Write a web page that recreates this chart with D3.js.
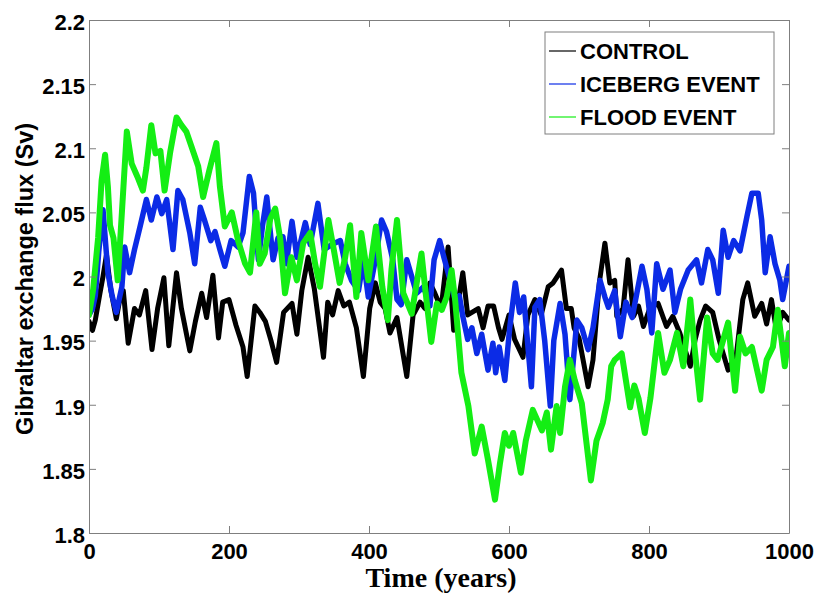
<!DOCTYPE html>
<html>
<head>
<meta charset="utf-8">
<script src="https://cdn.jsdelivr.net/npm/d3@7"></script>
<style>
  html, body { margin: 0; padding: 0; background: #fff; }
  svg { display: block; }
  text { font-family: "Liberation Sans", Arial, sans-serif; font-weight: bold; fill: #000; }
</style>
</head>
<body>
<svg id="chart" width="814" height="594"></svg>
<script>
// Gibraltar exchange flux (Sv) over 1000 model years, three experiments.
const seriesNames = ["CONTROL", "ICEBERG EVENT", "FLOOD EVENT"];
const seriesColors = ["#000000", "#0b2be6", "#14ee14"];

const xTicks = [0, 200, 400, 600, 800, 1000];
const yTicks = [1.8, 1.85, 1.9, 1.95, 2.0, 2.05, 2.1, 2.15, 2.2];
const yTickLabels = ["1.8", "1.85", "1.9", "1.95", "2", "2.05", "2.1", "2.15", "2.2"];

const controlYears = [0,5,9,15,20,25,31,39,45,49,56,65,72,81,90,98,107,114,125,132,144,152,161,168,177,185,191,200,210,220,226,237,244,252,260,268,278,290,297,304,313,322,335,341,348,356,364,372,382,392,401,409,416,423,430,440,454,463,473,480,487,494,503,513,521,534,541,556,563,570,578,585,590,600,608,620,627,637,646,656,663,675,682,689,693,700,713,720,729,737,744,751,754,763,770,778,785,792,801,813,825,834,844,859,866,873,881,891,900,913,925,934,941,951,961,968,975,982,991,1000];
const controlFlux = [1.965,1.958,1.966,1.985,2.000,2.017,1.990,1.967,1.985,1.989,1.948,1.975,1.970,1.989,1.943,1.975,1.999,1.946,2.003,1.975,1.942,1.965,1.987,1.968,2.001,1.952,1.980,1.982,1.962,1.945,1.922,1.977,1.972,1.965,1.950,1.933,1.972,1.979,1.955,1.989,2.015,1.990,1.937,1.980,1.970,1.989,1.977,1.980,1.960,1.922,1.975,1.995,1.980,1.975,1.956,1.968,1.922,1.970,1.980,1.975,1.995,1.987,1.975,2.023,1.958,2.003,1.970,1.975,1.960,1.977,1.977,1.960,1.951,1.970,1.951,1.937,1.970,1.982,1.970,1.992,1.995,2.005,1.975,1.975,1.960,1.952,1.914,1.935,1.995,2.026,1.995,1.997,1.969,1.975,2.013,1.969,1.977,1.961,1.975,1.979,1.961,1.969,1.956,1.930,1.951,1.966,1.977,1.972,1.951,1.927,1.940,1.982,1.995,1.969,1.979,1.963,1.982,1.958,1.972,1.966];

const icebergYears = [0,5,9,14,20,27,33,39,47,51,58,65,73,82,89,97,104,111,120,127,134,144,151,159,165,174,180,187,194,203,213,220,229,235,242,248,254,258,263,270,277,282,290,297,309,316,327,336,347,359,366,375,385,392,399,408,418,425,434,440,446,454,461,468,478,487,493,501,507,513,523,529,534,541,547,554,561,570,577,581,586,594,601,609,615,621,632,637,644,651,659,664,673,680,687,697,704,713,720,730,737,742,751,759,767,776,790,797,804,811,820,830,837,845,856,868,875,884,891,899,906,913,921,930,940,947,956,961,966,973,980,987,991,1000];
const icebergFlux = [1.970,1.975,1.985,2.020,2.052,2.003,1.985,1.972,1.992,2.023,2.003,2.021,2.039,2.060,2.044,2.062,2.049,2.060,2.021,2.067,2.060,2.034,2.010,2.054,2.044,2.028,2.035,2.021,2.008,2.028,2.023,2.034,2.078,2.065,2.013,2.040,2.062,2.040,2.013,2.030,2.031,2.010,2.043,2.015,2.042,2.025,2.057,2.021,2.025,2.028,2.010,1.997,1.989,2.013,1.984,2.010,2.044,2.035,2.013,1.982,1.978,2.013,2.000,1.987,1.992,1.977,2.013,2.028,2.015,2.003,1.982,1.985,1.969,1.951,1.960,1.940,1.955,1.927,1.948,1.925,1.945,1.919,1.960,1.995,1.972,1.984,1.914,1.976,1.982,1.950,1.899,1.950,1.979,1.955,1.904,1.966,1.960,1.943,1.960,1.997,1.984,1.976,1.989,1.953,1.980,1.968,2.008,1.990,1.956,2.010,1.990,2.005,1.972,1.990,2.005,2.013,1.995,2.021,2.013,1.987,2.036,2.015,2.028,2.020,2.047,2.065,2.065,2.044,2.003,2.031,2.010,1.997,1.982,2.008];

const floodYears = [0,6,13,18,23,27,30,35,41,47,54,61,69,77,82,89,95,102,108,116,125,132,139,146,156,163,172,182,187,194,204,213,223,230,239,244,251,259,266,273,280,289,297,306,316,323,330,342,350,358,366,373,382,389,399,410,419,427,432,440,449,461,475,481,489,497,504,511,518,523,532,542,551,561,570,580,587,594,600,606,617,624,634,647,654,660,668,673,680,687,694,704,717,725,734,741,746,751,761,773,779,785,794,802,813,822,830,840,849,859,865,873,883,891,898,913,923,930,938,947,961,968,977,984,994,1000];
const floodFlux = [1.970,1.990,2.030,2.075,2.095,2.070,2.040,2.030,1.997,2.050,2.113,2.088,2.078,2.067,2.085,2.118,2.096,2.098,2.067,2.097,2.124,2.118,2.113,2.102,2.086,2.062,2.083,2.104,2.070,2.039,2.050,2.028,2.010,2.003,2.050,2.010,2.018,2.045,2.053,2.030,1.987,2.015,1.997,2.026,2.034,2.010,1.992,2.044,2.020,1.995,2.015,2.040,1.984,2.034,1.997,2.039,1.992,1.966,2.005,2.044,1.987,1.971,2.018,1.987,1.949,1.979,1.974,1.984,2.005,1.982,1.925,1.899,1.862,1.883,1.857,1.826,1.854,1.878,1.868,1.878,1.847,1.872,1.896,1.880,1.894,1.865,1.899,1.878,1.914,1.935,1.919,1.901,1.841,1.872,1.886,1.904,1.930,1.935,1.940,1.898,1.915,1.905,1.878,1.905,1.956,1.925,1.935,1.956,1.930,1.982,1.945,1.904,1.968,1.940,1.935,1.964,1.911,1.953,1.940,1.945,1.911,1.935,1.945,1.974,1.930,1.956];

const svg = d3.select("#chart");
const margin = { left: 89, right: 25, top: 20, bottom: 61 };
const W = 814, H = 594;
const x0 = margin.left, x1 = W - margin.right, y0 = H - margin.bottom, y1 = margin.top;

const x = d3.scaleLinear().domain([0, 1000]).range([x0, x1]);
const y = d3.scaleLinear().domain([1.8, 2.2]).range([y0, y1]);

svg.append("defs").append("clipPath").attr("id", "plotClip")
  .append("rect").attr("x", x0).attr("y", y1).attr("width", x1 - x0).attr("height", y0 - y1);

const seriesData = [
  controlYears.map((t, i) => [t, controlFlux[i]]),
  icebergYears.map((t, i) => [t, icebergFlux[i]]),
  floodYears.map((t, i) => [t, floodFlux[i]])
];
const widths = [5, 5.5, 6];

const line = d3.line().x(d => x(d[0])).y(d => y(d[1]));

const plot = svg.append("g").attr("clip-path", "url(#plotClip)");
seriesData.forEach((data, i) => {
  plot.append("path")
    .datum(data)
    .attr("d", line)
    .attr("fill", "none")
    .attr("stroke", seriesColors[i])
    .attr("stroke-width", widths[i])
    .attr("stroke-linejoin", "round")
    .attr("stroke-linecap", "round");
});

// Axes: box frame with inward ticks on all four sides
const axisColor = "#7f7f7f";
const tickLen = 7;
const fontSize = 22;

const xAxisB = d3.axisBottom(x).tickValues(xTicks).tickSizeInner(-tickLen).tickSizeOuter(0).tickPadding(10).tickFormat(d3.format("d"));
const gx = svg.append("g").attr("transform", `translate(0,${y0})`).call(xAxisB);
gx.select(".domain").attr("stroke", axisColor);
gx.selectAll(".tick line").attr("stroke", axisColor);
gx.selectAll(".tick text").attr("font-size", fontSize).attr("fill", "#000")
  .attr("font-family", "Liberation Sans, Arial, sans-serif").attr("font-weight", "bold");

const xAxisT = d3.axisTop(x).tickValues(xTicks).tickSizeInner(-tickLen).tickSizeOuter(0).tickFormat("");
const gxt = svg.append("g").attr("transform", `translate(0,${y1})`).call(xAxisT);
gxt.select(".domain").attr("stroke", axisColor);
gxt.selectAll(".tick line").attr("stroke", axisColor);

const yAxisL = d3.axisLeft(y).tickValues(yTicks).tickSizeInner(-tickLen).tickSizeOuter(0).tickPadding(4)
  .tickFormat((d, i) => yTickLabels[i]);
const gy = svg.append("g").attr("transform", `translate(${x0},0)`).call(yAxisL);
gy.select(".domain").attr("stroke", axisColor);
gy.selectAll(".tick line").attr("stroke", axisColor);
gy.selectAll(".tick text").attr("font-size", fontSize).attr("fill", "#000")
  .attr("font-family", "Liberation Sans, Arial, sans-serif").attr("font-weight", "bold")
  .attr("dy", "0.42em");

const yAxisR = d3.axisRight(y).tickValues(yTicks).tickSizeInner(-tickLen).tickSizeOuter(0).tickFormat("");
const gyr = svg.append("g").attr("transform", `translate(${x1},0)`).call(yAxisR);
gyr.select(".domain").attr("stroke", axisColor);
gyr.selectAll(".tick line").attr("stroke", axisColor);

// Axis titles
svg.append("text")
  .attr("x", (x0 + x1) / 2 + 2).attr("y", 587)
  .attr("text-anchor", "middle")
  .style("font-family", "'Liberation Serif', 'Times New Roman', serif")
  .attr("font-size", 28)
  .text("Time (years)");

svg.append("text")
  .attr("transform", `translate(33,279) rotate(-90)`)
  .attr("text-anchor", "middle")
  .attr("font-size", 23.5)
  .text("Gibraltar exchange flux (Sv)");

// Legend
const legend = svg.append("g");
legend.append("rect")
  .attr("x", 545).attr("y", 32).attr("width", 229).attr("height", 102)
  .attr("fill", "#fff").attr("stroke", axisColor).attr("stroke-width", 1);
const rowY = [51, 84, 117];
seriesNames.forEach((name, i) => {
  legend.append("line")
    .attr("x1", 549).attr("x2", 576).attr("y1", rowY[i]).attr("y2", rowY[i])
    .attr("stroke", seriesColors[i]).attr("stroke-width", 1.2);
  legend.append("text")
    .attr("x", 580).attr("y", rowY[i]).attr("dy", "0.36em")
    .attr("font-size", fontSize)
    .text(name);
});
</script>
</body>
</html>
